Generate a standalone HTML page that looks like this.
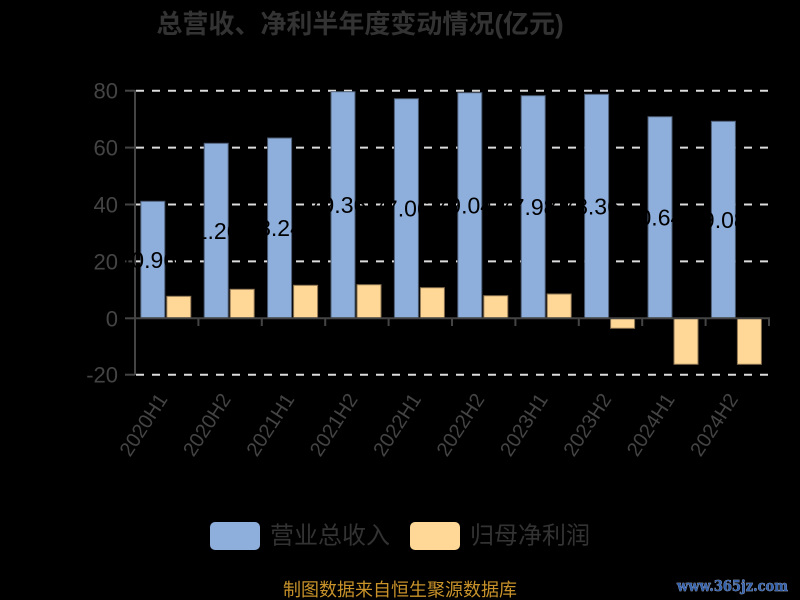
<!DOCTYPE html>
<html><head><meta charset="utf-8"><style>
html,body{margin:0;padding:0;background:#000;}
svg{display:block;}
</style></head><body>
<svg width="800" height="600" viewBox="0 0 800 600" xmlns="http://www.w3.org/2000/svg">
<rect x="0" y="0" width="800" height="600" fill="#000"/>
<text x="360" y="33" text-anchor="middle" font-family="'Liberation Sans','Noto Sans CJK SC',sans-serif" font-size="26" font-weight="bold" fill="#333">总营收、净利半年度变动情况(亿元)</text>

<!-- gridlines -->
<g stroke="#dcdcdc" stroke-width="2" stroke-dasharray="8,8">
<line x1="136" y1="90.7" x2="769" y2="90.7"/>
<line x1="136" y1="147.6" x2="769" y2="147.6"/>
<line x1="136" y1="204.5" x2="769" y2="204.5"/>
<line x1="136" y1="261.4" x2="769" y2="261.4"/>
<line x1="136" y1="374.7" x2="769" y2="374.7"/>
</g>

<!-- blue bars -->
<g fill="#8eaedb" stroke="#4d5d75" stroke-width="1">
<rect x="140.8" y="201.3" width="24" height="117"/>
<rect x="204.2" y="143.3" width="24" height="175"/>
<rect x="267.6" y="138" width="24" height="180.3"/>
<rect x="331.0" y="91.7" width="24" height="226.6"/>
<rect x="394.4" y="98.7" width="24" height="219.6"/>
<rect x="457.8" y="92.7" width="24" height="225.6"/>
<rect x="521.2" y="95.7" width="24" height="222.6"/>
<rect x="584.6" y="94.3" width="24" height="224"/>
<rect x="648.0" y="116.7" width="24" height="201.6"/>
<rect x="711.4" y="121.3" width="24" height="197"/>
</g>
<!-- orange bars -->
<g fill="#ffd897" stroke="#8a7250" stroke-width="1">
<rect x="166.8" y="296.3" width="24" height="22"/>
<rect x="230.2" y="289.3" width="24" height="29"/>
<rect x="293.6" y="285.3" width="24" height="33"/>
<rect x="357.0" y="284.7" width="24" height="33.6"/>
<rect x="420.4" y="287.7" width="24" height="30.6"/>
<rect x="483.8" y="295.7" width="24" height="22.6"/>
<rect x="547.2" y="294" width="24" height="24.3"/>
<rect x="610.6" y="318.3" width="24" height="10"/>
<rect x="674.0" y="318.3" width="24" height="46"/>
<rect x="737.4" y="318.3" width="24" height="46"/>
</g>

<!-- axes -->
<g stroke="#444" stroke-width="2">
<line x1="135" y1="90" x2="135" y2="375"/>
<line x1="134" y1="318.3" x2="770" y2="318.3"/>
<line x1="125" y1="90.7" x2="135" y2="90.7"/>
<line x1="125" y1="147.6" x2="135" y2="147.6"/>
<line x1="125" y1="204.5" x2="135" y2="204.5"/>
<line x1="125" y1="261.4" x2="135" y2="261.4"/>
<line x1="125" y1="318.3" x2="135" y2="318.3"/>
<line x1="125" y1="374.7" x2="135" y2="374.7"/>
<line x1="198.4" y1="318" x2="198.4" y2="326"/>
<line x1="261.8" y1="318" x2="261.8" y2="326"/>
<line x1="325.2" y1="318" x2="325.2" y2="326"/>
<line x1="388.6" y1="318" x2="388.6" y2="326"/>
<line x1="452.0" y1="318" x2="452.0" y2="326"/>
<line x1="515.4" y1="318" x2="515.4" y2="326"/>
<line x1="578.8" y1="318" x2="578.8" y2="326"/>
<line x1="642.2" y1="318" x2="642.2" y2="326"/>
<line x1="705.6" y1="318" x2="705.6" y2="326"/>
<line x1="769" y1="318" x2="769" y2="326"/>
</g>

<!-- y labels -->
<g font-family="'Liberation Sans',sans-serif" font-size="22" fill="#444" text-anchor="end">
<text x="118" y="98.7">80</text>
<text x="118" y="155.6">60</text>
<text x="118" y="212.5">40</text>
<text x="118" y="269.4">20</text>
<text x="118" y="326.3">0</text>
<text x="118" y="382.7">-20</text>
</g>

<!-- x labels -->
<g font-family="'Liberation Sans',sans-serif" font-size="20" fill="#444" text-anchor="end">
<text transform="translate(168.2,399) rotate(-57)">2020H1</text>
<text transform="translate(231.6,399) rotate(-57)">2020H2</text>
<text transform="translate(295.0,399) rotate(-57)">2021H1</text>
<text transform="translate(358.4,399) rotate(-57)">2021H2</text>
<text transform="translate(421.8,399) rotate(-57)">2022H1</text>
<text transform="translate(485.2,399) rotate(-57)">2022H2</text>
<text transform="translate(548.6,399) rotate(-57)">2023H1</text>
<text transform="translate(612.0,399) rotate(-57)">2023H2</text>
<text transform="translate(675.4,399) rotate(-57)">2024H1</text>
<text transform="translate(738.8,399) rotate(-57)">2024H2</text>
</g>

<!-- bar value labels (black) -->
<g font-family="'Liberation Sans',sans-serif" font-size="23" fill="#000" text-anchor="middle">
<text x="147.3" y="267.8">40.96</text>
<text x="210.7" y="238.8">61.26</text>
<text x="274.1" y="236.2">63.24</text>
<text x="337.5" y="213">79.36</text>
<text x="400.9" y="216.5">77.06</text>
<text x="464.3" y="213.5">79.04</text>
<text x="527.7" y="215">77.98</text>
<text x="591.1" y="214.3">78.36</text>
<text x="654.5" y="225.5">70.64</text>
<text x="717.9" y="227.8">69.08</text>
</g>

<!-- legend -->
<rect x="210" y="522" width="50" height="28" rx="5" ry="5" fill="#8eaedb"/>
<text x="270" y="543.5" font-family="'Liberation Sans','Noto Sans CJK SC',sans-serif" font-size="24" fill="#333">营业总收入</text>
<rect x="410" y="522" width="50" height="28" rx="5" ry="5" fill="#ffd897"/>
<text x="470" y="543.5" font-family="'Liberation Sans','Noto Sans CJK SC',sans-serif" font-size="24" fill="#333">归母净利润</text>

<!-- footer -->
<text x="400" y="596" text-anchor="middle" font-family="'Liberation Sans','Noto Sans CJK SC',sans-serif" font-size="18" fill="#c8922a">制图数据来自恒生聚源数据库</text>

<!-- watermark -->
<text x="677" y="591" textLength="111" lengthAdjust="spacingAndGlyphs" font-family="'DejaVu Serif',serif" font-size="15" font-weight="bold" fill="#3562ad" stroke="#b8c4d8" stroke-width="0.6" paint-order="stroke">www.365jz.com</text>
</svg>
</body></html>
